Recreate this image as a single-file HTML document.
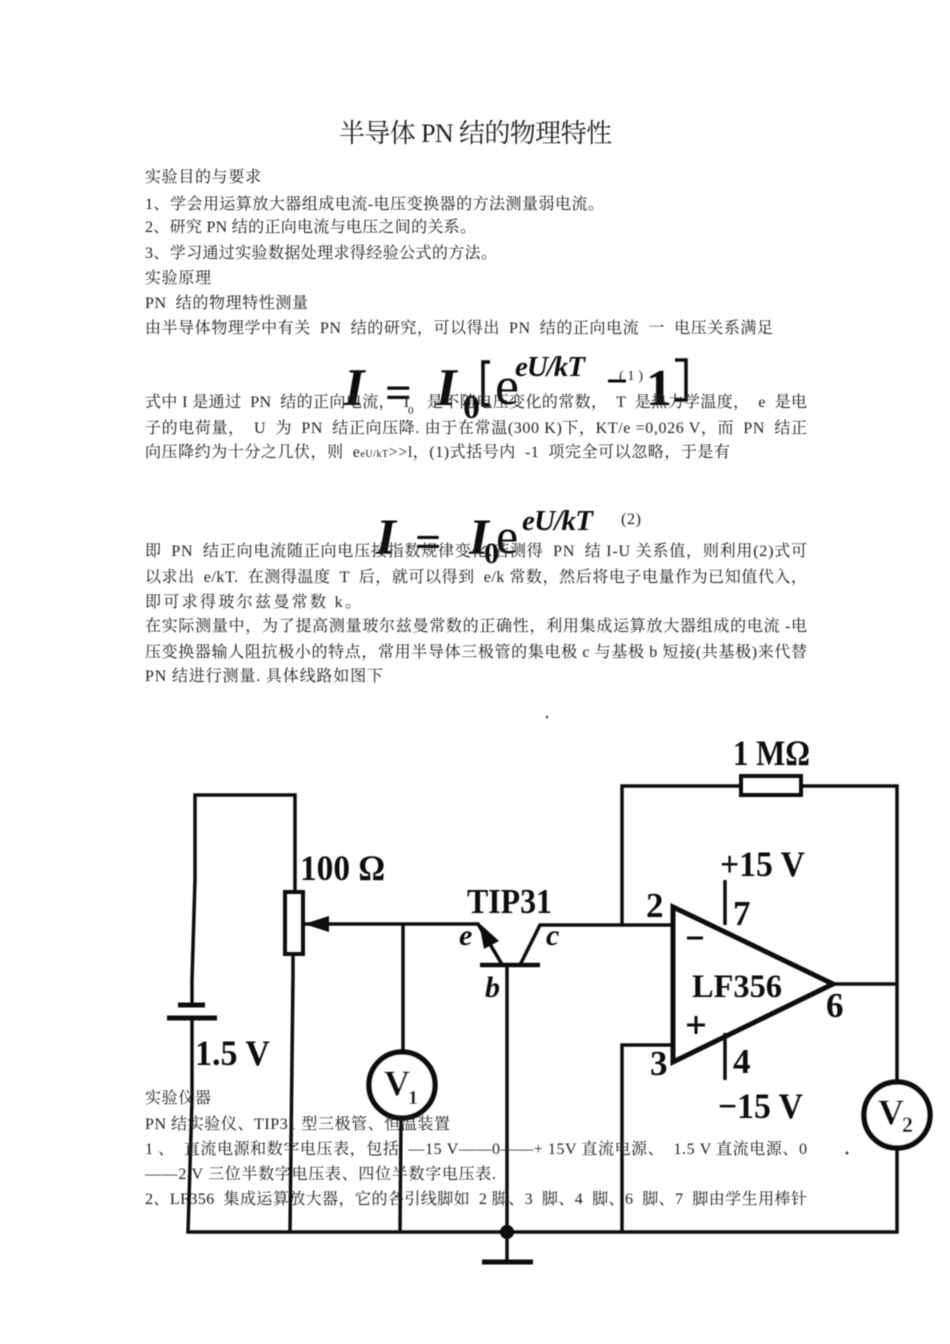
<!DOCTYPE html>
<html lang="zh"><head><meta charset="utf-8"><title>半导体PN结的物理特性</title>
<style>
html,body{margin:0;padding:0;background:#fff}
svg{display:block}
.t{font:16px "Liberation Serif","Noto Serif CJK SC",serif;fill:#222;white-space:pre}
.c{font-family:"Liberation Serif",serif;font-weight:bold;fill:#111}
.b{font-family:"Liberation Serif",serif;font-weight:bold;font-style:italic;fill:#111}
.w{fill:none;stroke:#111;stroke-width:3.5;stroke-linejoin:miter}
</style></head><body>
<svg width="950" height="1344" viewBox="0 0 950 1344" xmlns="http://www.w3.org/2000/svg">
<defs><filter id="s" x="-5%" y="-5%" width="110%" height="110%"><feGaussianBlur stdDeviation="0.4"/></filter></defs>
<rect width="950" height="1344" fill="#fff"/>

<g filter="url(#s)">
<!-- circuit -->
<g class="w">
<path d="M192 980L195 880V795H295V892"/>
<path d="M192 980V1005M192 1018V1100L188 1232H897V1148"/>
<path d="M293 955V975L290 1232"/>
<rect x="285" y="892" width="18" height="62" stroke-width="4"/>
<path d="M304 924H478L503 966"/>
<path d="M403 924V1052M401 1118L400 1232"/>
<path d="M480 965H540" stroke-width="4.5"/>
<path d="M520 965L540 925H673"/>
<path d="M507 966V1262"/>
<path d="M622 925V786H740M802 786H897V1082"/>
<rect x="741" y="776" width="60" height="19" stroke-width="4"/>
<path d="M673 907V1062L833 984Z" stroke-width="5"/>
<path d="M833 984H897"/>
<path d="M673 1045H622V1232"/>
<path d="M725 880V925M725 1033V1080"/>
<circle cx="402" cy="1085" r="33" stroke-width="5.5" fill="#fff"/>
<circle cx="897" cy="1115" r="33" stroke-width="5.5" fill="#fff"/>
</g>
<path d="M178 1005H205M167 1018H217M482 1262H533" stroke="#111" stroke-width="5" fill="none"/>
<circle cx="507" cy="1232" r="7" fill="#111"/>
<path d="M304 924L329 916V932Z" fill="#111"/>
<path d="M479 923L499 941L484 949Z" fill="#111"/>

<text class="c" x="733" y="765" font-size="36" textLength="77" lengthAdjust="spacingAndGlyphs">1 MΩ</text>
<text class="c" x="720" y="876" font-size="36" textLength="85" lengthAdjust="spacingAndGlyphs">+15 V</text>
<text class="c" x="300" y="880" font-size="36" textLength="85" lengthAdjust="spacingAndGlyphs">100 Ω</text>
<text class="c" x="467" y="913" font-size="35" textLength="85" lengthAdjust="spacingAndGlyphs">TIP31</text>
<text class="c" x="646" y="917" font-size="35">2</text>
<text class="c" x="733" y="925" font-size="35">7</text>
<text class="c" x="692" y="997" font-size="33" textLength="90" lengthAdjust="spacingAndGlyphs">LF356</text>
<text class="c" x="826" y="1017" font-size="35">6</text>
<text class="c" x="650" y="1075" font-size="35">3</text>
<text class="c" x="733" y="1073" font-size="35">4</text>
<text class="c" x="718" y="1118" font-size="36" textLength="85" lengthAdjust="spacingAndGlyphs">−15 V</text>
<text class="c" x="195" y="1065" font-size="36" textLength="75" lengthAdjust="spacingAndGlyphs">1.5 V</text>
<path d="M687 1025H705M696 1016V1034M687 938H703" stroke="#111" stroke-width="3" fill="none"/>
<text class="b" x="459" y="945" font-size="30">e</text>
<text class="b" x="546" y="945" font-size="30">c</text>
<text class="b" x="485" y="997" font-size="30">b</text>
<text class="c" x="384" y="1095" font-size="36">V</text><text class="c" x="408" y="1104" font-size="20">1</text>
<text class="c" x="878" y="1124" font-size="36">V</text><text class="c" x="902" y="1132" font-size="22">2</text>

<!-- formulas -->
<text class="b" x="344" y="405" font-size="53">I</text>
<text class="c" x="385" y="408" font-size="47">=</text>
<text class="b" x="436" y="405" font-size="53">I</text>
<text class="c" x="463" y="418" font-size="34">0</text>
<path d="M490 362H483V405H490M675 360H686V400H675" fill="none" stroke="#111" stroke-width="3.5"/>
<text x="495" y="404" font-size="54" font-family="Liberation Serif" fill="#111">e</text>
<text class="b" x="515" y="376" font-size="29" textLength="70">eU/kT</text>
<path d="M608 381H626" stroke="#111" stroke-width="3"/>
<text class="t" x="619" y="380" style="font-size:14px" textLength="24">(1)</text>
<text class="c" x="646" y="405" font-size="52">1</text>

<text class="b" x="376" y="554" font-size="51">I</text>
<text class="c" x="415" y="557" font-size="46">=</text>
<text class="b" x="469" y="554" font-size="51">I</text>
<text class="c" x="484" y="563" font-size="30">0</text>
<text x="496" y="553" font-size="50" font-family="Liberation Serif" fill="#111">e</text>
<text class="b" x="522" y="530" font-size="29" textLength="71">eU/kT</text>
<text class="t" x="621" y="524" textLength="20">(2)</text>

<!-- text -->
<text x="339" y="142" class="t" style="font-size:26px" textLength="273">半导体 PN 结的物理特性</text>
<text class="t" x="145" y="182" textLength="116">实验目的与要求</text>
<text class="t" x="145" y="209" textLength="459">1、学会用运算放大器组成电流-电压变换器的方法测量弱电流。</text>
<text class="t" x="145" y="232" textLength="331">2、研究 PN 结的正向电流与电压之间的关系。</text>
<text class="t" x="145" y="258" textLength="352">3、学习通过实验数据处理求得经验公式的方法。</text>
<text class="t" x="145" y="283" textLength="66">实验原理</text>
<text class="t" x="145" y="308" textLength="163">PN  结的物理特性测量</text>
<text class="t" x="145" y="333" textLength="628">由半导体物理学中有关  PN  结的研究，可以得出  PN  结的正向电流  一  电压关系满足</text>
<text class="t" x="145" y="407" textLength="662">式中 I 是通过  PN  结的正向电流，  I    是不随电压变化的常数，  T  是热力学温度，  e  是电</text>
<text class="t" x="408" y="414" style="font-size:11px">0</text>
<text class="t" x="145" y="433" textLength="662">子的电荷量，  U  为  PN  结正向压降. 由于在常温(300 K)下，KT/e =0,026 V，而  PN  结正</text>
<text class="t" x="145" y="457" textLength="585">向压降约为十分之几伏，则  e<tspan style="font-size:10px">eU/kT</tspan>&gt;&gt;l，(1)式括号内  -1  项完全可以忽略，于是有</text>
<text class="t" x="145" y="556" textLength="662">即  PN  结正向电流随正向电压按指数规律变化.若测得  PN  结 I-U 关系值，则利用(2)式可</text>
<text class="t" x="145" y="582" textLength="662">以求出  e/kT.  在测得温度  T  后，就可以得到  e/k 常数，然后将电子电量作为已知值代入，</text>
<text class="t" x="145" y="607" textLength="216">即可求得玻尔兹曼常数 k。</text>
<text class="t" x="145" y="631" textLength="662">在实际测量中，为了提高测量玻尔兹曼常数的正确性，利用集成运算放大器组成的电流 -电</text>
<text class="t" x="145" y="657" textLength="662">压变换器输人阻抗极小的特点，常用半导体三极管的集电极 c 与基极 b 短接(共基极)来代替</text>
<text class="t" x="145" y="681" textLength="238">PN 结进行测量. 具体线路如图下</text>
<text class="t" x="145" y="1103" textLength="66">实验仪器</text>
<text class="t" x="145" y="1129" textLength="305">PN 结实验仪、TIP31 型三极管、恒温装置</text>
<text class="t" x="145" y="1154" textLength="662">1 、  直流电源和数字电压表，包括  —15 V——0——+ 15V 直流电源、  1.5 V 直流电源、0</text>
<text class="t" x="145" y="1179" textLength="351">——2 V 三位半数字电压表、四位半数字电压表.</text>
<text class="t" x="145" y="1204" textLength="662">2、LF356  集成运算放大器，它的各引线脚如  2 脚、3  脚、4  脚、6  脚、7  脚由学生用棒针</text>
<circle cx="547" cy="717" r="1.2" fill="#333"/>
<circle cx="847" cy="1153" r="1.5" fill="#444"/>
</g>
</svg>
</body></html>
